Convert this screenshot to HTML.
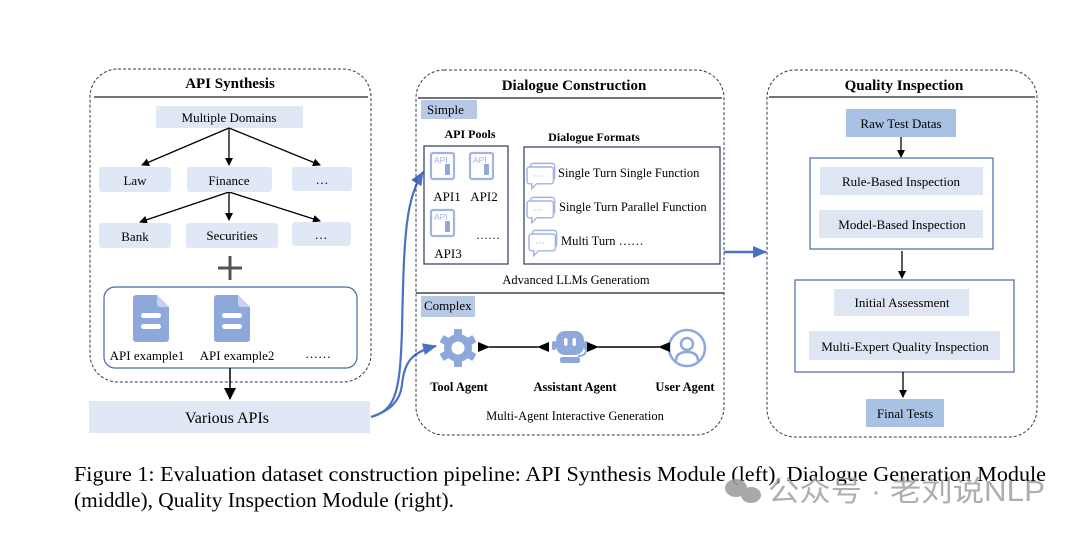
<!DOCTYPE html>
<html><head><meta charset="utf-8"><style>
html,body{margin:0;padding:0;background:#fff;}
svg{display:block;font-family:"Liberation Serif",serif;}
</style></head><body>
<svg width="1080" height="534" viewBox="0 0 1080 534" xmlns="http://www.w3.org/2000/svg">
<defs>
<marker id="ab" markerWidth="8" markerHeight="8" refX="7" refY="4" orient="auto" markerUnits="userSpaceOnUse"><path d="M0,0 L8,4 L0,8 z" fill="#000"/></marker>
<marker id="abig" markerWidth="12" markerHeight="12" refX="11" refY="6" orient="auto" markerUnits="userSpaceOnUse"><path d="M0,0 L12,6 L0,12 z" fill="#000"/></marker>
<marker id="ablue" markerWidth="14" markerHeight="12" refX="13" refY="6" orient="auto" markerUnits="userSpaceOnUse"><path d="M0,0 L14,6 L0,12 z" fill="#4a72c4"/></marker>
<marker id="abs" markerWidth="12" markerHeight="10" refX="1" refY="5" orient="auto-start-reverse" markerUnits="userSpaceOnUse"><path d="M0,5 L12,0 L12,10 z" fill="#000"/></marker>
<g id="doc"><path d="M-18,-22 h24 l12,12 v32 a3,3 0 0 1 -3,3 h-30 a3,3 0 0 1 -3,-3 v-41 a3,3 0 0 1 3,-3z" fill="#8fa8db"/><path d="M6,-22 v9 a3,3 0 0 0 3,3 h9z" fill="#c5d3ef"/><rect x="-10" y="-4" width="20" height="5" rx="2.5" fill="#fff"/><rect x="-10" y="7" width="20" height="5" rx="2.5" fill="#fff"/></g>
<g id="api"><rect x="0" y="0" width="23" height="26" rx="2" fill="#fff" stroke="#9fb4e3" stroke-width="2.2"/><text x="3" y="10" font-family="Liberation Sans,sans-serif" font-size="8.5" fill="#9fb4e3">API</text><rect x="14" y="11" width="5" height="11" rx="1" fill="#8fa8db"/></g>
<g id="chat" transform="scale(1.2)"><rect x="3" y="-3" width="20" height="14" rx="2" fill="#fff" stroke="#9fb4e3" stroke-width="1.2"/><path d="M2,0 h18 a2,2 0 0 1 2,2 v10 a2,2 0 0 1 -2,2 h-12 l-4,4 v-4 h-2 a2,2 0 0 1 -2,-2 v-10 a2,2 0 0 1 2,-2z" fill="#fff" stroke="#9fb4e3" stroke-width="1.2"/><text x="5" y="10" font-size="8" fill="#8fa8db">···</text></g>
</defs>

<!-- LEFT PANEL -->
<rect x="90" y="69" width="281" height="313" rx="28" fill="none" stroke="#2b3a55" stroke-width="1" stroke-dasharray="3,2"/>
<line x1="94" y1="97" x2="368" y2="97" stroke="#222" stroke-width="1.3"/>
<text x="230" y="88" font-size="15" font-weight="bold" text-anchor="middle">API Synthesis</text>
<rect x="156" y="106" width="147" height="22" rx="2" fill="#dfe8f4"/>
<text x="229" y="122" font-size="13" text-anchor="middle">Multiple Domains</text>
<g stroke="#000" stroke-width="1.3" fill="none">
<line x1="229" y1="128" x2="142" y2="165" marker-end="url(#ab)"/>
<line x1="229" y1="128" x2="229" y2="165" marker-end="url(#ab)"/>
<line x1="229" y1="128" x2="320" y2="165" marker-end="url(#ab)"/>
<line x1="229" y1="192" x2="140" y2="222" marker-end="url(#ab)"/>
<line x1="229" y1="192" x2="229" y2="220" marker-end="url(#ab)"/>
<line x1="229" y1="192" x2="320" y2="221" marker-end="url(#ab)"/>
</g>
<rect x="99" y="167" width="72" height="25" rx="3" fill="#dfe8f4"/><text x="135" y="185" font-size="13" text-anchor="middle">Law</text>
<rect x="187" y="167" width="85" height="25" rx="3" fill="#dfe8f4"/><text x="229" y="185" font-size="13" text-anchor="middle">Finance</text>
<rect x="292" y="167" width="60" height="24" rx="3" fill="#dfe8f4"/><text x="322" y="184" font-size="13" text-anchor="middle">…</text>
<rect x="99" y="223" width="72" height="25" rx="3" fill="#dfe8f4"/><text x="135" y="241" font-size="13" text-anchor="middle">Bank</text>
<rect x="186" y="223" width="92" height="25" rx="3" fill="#dfe8f4"/><text x="232" y="240" font-size="13" text-anchor="middle">Securities</text>
<rect x="292" y="222" width="59" height="24" rx="3" fill="#dfe8f4"/><text x="321" y="239" font-size="13" text-anchor="middle">…</text>
<path d="M218,268 h24 M230,256 v24" stroke="#555" stroke-width="3"/>
<rect x="104" y="287" width="253" height="81" rx="11" fill="#fff" stroke="#4a68a8" stroke-width="1.2"/>
<use href="#doc" x="151" y="317"/>
<use href="#doc" x="232" y="317"/>
<text x="147" y="360" font-size="13" text-anchor="middle">API example1</text>
<text x="237" y="360" font-size="13" text-anchor="middle">API example2</text>
<text x="318" y="358" font-size="13" text-anchor="middle">……</text>
<line x1="230" y1="368" x2="230" y2="399" stroke="#000" stroke-width="1.5" marker-end="url(#abig)"/>
<rect x="89" y="401" width="281" height="32" fill="#dfe8f4"/>
<text x="227" y="423" font-size="16" text-anchor="middle">Various APIs</text>

<!-- blue curves -->
<path d="M371,417 C395,410 400,395 402,330 C404,230 406,200 423,172" fill="none" stroke="#4a72c4" stroke-width="2.2" marker-end="url(#ablue)"/>
<path d="M371,417 C392,410 400,400 402,385 C404,362 412,352 436,346" fill="none" stroke="#4a72c4" stroke-width="2.2" marker-end="url(#ablue)"/>

<!-- MIDDLE PANEL -->
<rect x="416" y="70" width="308" height="365" rx="28" fill="none" stroke="#2b3a55" stroke-width="1" stroke-dasharray="3,2"/>
<line x1="418" y1="98" x2="722" y2="98" stroke="#222" stroke-width="1.3"/>
<text x="574" y="90" font-size="15" font-weight="bold" text-anchor="middle">Dialogue Construction</text>
<rect x="421" y="100" width="56" height="19" fill="#b8c9e6"/><text x="427" y="114" font-size="13">Simple</text>
<text x="470" y="138" font-size="12" font-weight="bold" text-anchor="middle">API Pools</text>
<text x="594" y="141" font-size="12" font-weight="bold" text-anchor="middle">Dialogue Formats</text>
<rect x="424" y="146" width="84" height="118" fill="#fff" stroke="#2b3a55" stroke-width="1.2"/>
<rect x="524" y="147" width="196" height="117" fill="#fff" stroke="#2b3a55" stroke-width="1.2"/>
<use href="#api" x="431" y="153"/><use href="#api" x="470" y="153"/><use href="#api" x="431" y="210"/>
<text x="447" y="201" font-size="13" text-anchor="middle">API1</text>
<text x="484" y="201" font-size="13" text-anchor="middle">API2</text>
<text x="448" y="258" font-size="13" text-anchor="middle">API3</text>
<text x="488" y="239" font-size="12" text-anchor="middle">……</text>
<use href="#chat" x="527" y="167"/><use href="#chat" x="527" y="201"/><use href="#chat" x="529" y="234"/>
<text x="558" y="177" font-size="12.5">Single Turn Single Function</text>
<text x="559" y="211" font-size="12.5">Single Turn Parallel Function</text>
<text x="561" y="245" font-size="12.5">Multi Turn ……</text>
<text x="576" y="284" font-size="12.5" text-anchor="middle">Advanced LLMs Generatiom</text>
<line x1="416" y1="293" x2="724" y2="293" stroke="#222" stroke-width="1.3"/>
<rect x="421" y="296" width="54" height="21" fill="#b8c9e6"/><text x="424" y="310" font-size="13">Complex</text>
<!-- gear -->
<g transform="translate(458,348)" fill="#8fa8db">
<g><rect x="-4" y="-19" width="8" height="38" rx="1"/><rect x="-4" y="-19" width="8" height="38" rx="1" transform="rotate(60)"/><rect x="-4" y="-19" width="8" height="38" rx="1" transform="rotate(120)"/></g>
<circle r="14"/><circle r="6.5" fill="#fff"/></g>
<!-- robot -->
<g transform="translate(570,346)" fill="#8fa8db">
<rect x="-14" y="-15" width="28" height="24" rx="9"/>
<rect x="-18" y="-5" width="4" height="9" rx="2"/><rect x="14" y="-5" width="4" height="9" rx="2"/>
<rect x="-6" y="-8" width="3.5" height="8" rx="1.7" fill="#fff"/><rect x="2.5" y="-8" width="3.5" height="8" rx="1.7" fill="#fff"/>
<path d="M16,4 q0,6 -8,6" stroke="#8fa8db" stroke-width="2" fill="none"/>
<rect x="-10" y="11" width="20" height="6" rx="2"/></g>
<!-- user -->
<g transform="translate(687,348)" fill="none" stroke="#8fa8db" stroke-width="2.5">
<circle r="18"/><circle cx="0" cy="-4" r="6"/><path d="M-11,13 q0,-9 11,-9 q11,0 11,9"/></g>
<line x1="489" y1="347" x2="538" y2="347" stroke="#000" stroke-width="1.4" marker-start="url(#abs)" marker-end="url(#abs)"/>
<line x1="598" y1="347" x2="659" y2="347" stroke="#000" stroke-width="1.4" marker-start="url(#abs)" marker-end="url(#abs)"/>
<text x="459" y="391" font-size="12.5" font-weight="bold" text-anchor="middle">Tool Agent</text>
<text x="575" y="391" font-size="12.5" font-weight="bold" text-anchor="middle">Assistant Agent</text>
<text x="685" y="391" font-size="12.5" font-weight="bold" text-anchor="middle">User Agent</text>
<text x="575" y="420" font-size="12.5" text-anchor="middle">Multi-Agent Interactive Generation</text>

<line x1="724" y1="252" x2="766" y2="252" stroke="#4a72c4" stroke-width="2.5" marker-end="url(#ablue)"/>

<!-- RIGHT PANEL -->
<rect x="767" y="70" width="270" height="367" rx="28" fill="none" stroke="#2b3a55" stroke-width="1" stroke-dasharray="3,2"/>
<line x1="769" y1="97" x2="1035" y2="97" stroke="#222" stroke-width="1.3"/>
<text x="904" y="90" font-size="15" font-weight="bold" text-anchor="middle">Quality Inspection</text>
<rect x="846" y="109" width="110" height="28" fill="#a9c1e3"/><text x="901" y="128" font-size="13" text-anchor="middle">Raw Test Datas</text>
<line x1="901" y1="137" x2="901" y2="157" stroke="#000" stroke-width="1.3" marker-end="url(#ab)"/>
<rect x="810" y="158" width="183" height="91" fill="#fff" stroke="#4a68a8" stroke-width="1.2"/>
<rect x="820" y="167" width="163" height="28" fill="#dfe6f3"/><text x="901" y="186" font-size="13" text-anchor="middle">Rule-Based Inspection</text>
<rect x="819" y="210" width="164" height="28" fill="#dfe6f3"/><text x="902" y="229" font-size="13" text-anchor="middle">Model-Based Inspection</text>
<line x1="902" y1="251" x2="902" y2="278" stroke="#000" stroke-width="1.3" marker-end="url(#ab)"/>
<rect x="795" y="280" width="219" height="92" fill="#fff" stroke="#4a68a8" stroke-width="1.2"/>
<rect x="834" y="289" width="135" height="27" fill="#dfe6f3"/><text x="902" y="307" font-size="13" text-anchor="middle">Initial Assessment</text>
<rect x="809" y="331" width="191" height="29" fill="#dfe6f3"/><text x="905" y="351" font-size="13" text-anchor="middle">Multi-Expert Quality Inspection</text>
<line x1="903" y1="372" x2="903" y2="397" stroke="#000" stroke-width="1.3" marker-end="url(#ab)"/>
<rect x="866" y="399" width="78" height="28" fill="#a9c1e3"/><text x="905" y="418" font-size="13" text-anchor="middle">Final Tests</text>

<!-- caption -->
<text x="74" y="481" font-size="21" textLength="972" lengthAdjust="spacingAndGlyphs">Figure 1: Evaluation dataset construction pipeline: API Synthesis Module (left), Dialogue Generation Module</text>
<text x="74" y="507" font-size="21" textLength="380" lengthAdjust="spacingAndGlyphs">(middle), Quality Inspection Module (right).</text>
<!-- watermark -->
<g fill="#9a9a9a" opacity="0.85"><ellipse cx="736" cy="488" rx="11" ry="9"/><ellipse cx="751" cy="495" rx="10" ry="8"/></g>
<text x="768" y="501" font-size="29" fill="#a0a0a0" font-family="'Liberation Sans','Noto Sans CJK SC',sans-serif" opacity="0.85" textLength="277" lengthAdjust="spacingAndGlyphs">公众号 · 老刘说NLP</text>
</svg>
</body></html>
